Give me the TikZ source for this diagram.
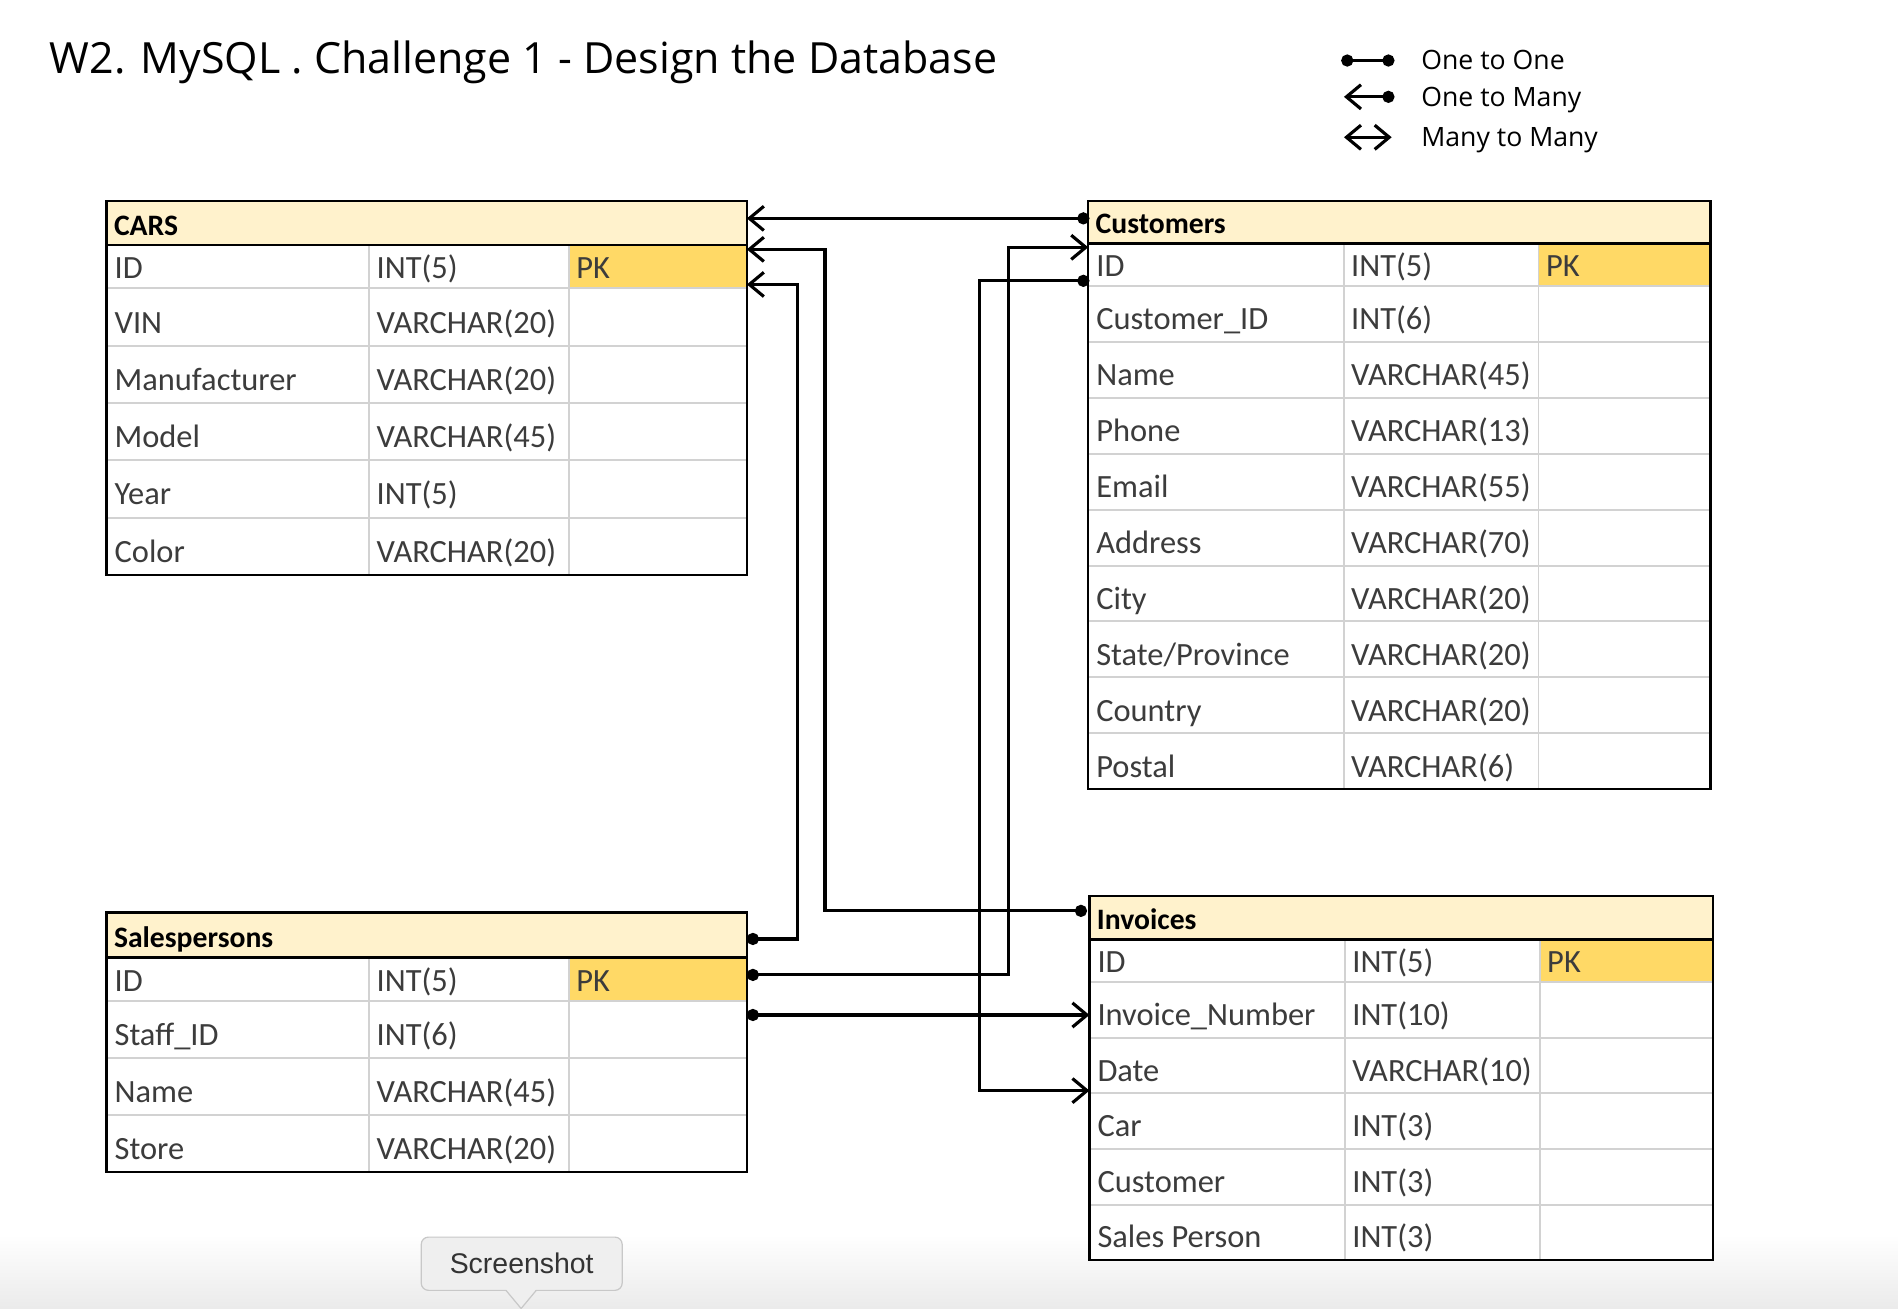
\documentclass[tikz,border=0pt]{standalone}
\usepackage{fontspec}
\setmainfont{Carlito}
\newfontfamily\titlefont{Open Sans}
\newfontfamily\tipfont{Liberation Sans}
\usetikzlibrary{arrows.meta}
\definecolor{hdrfill}{HTML}{FFF2CC}
\definecolor{pkfill}{HTML}{FFD966}
\definecolor{gridgray}{HTML}{D2D2D2}
\definecolor{celltext}{HTML}{3C3C3C}
\definecolor{tipfill}{HTML}{EFEFEF}
\definecolor{tipborder}{HTML}{C8C8C8}
\tikzset{
  gridline/.style={draw=gridgray, line width=1.6pt},
  tblborder/.style={draw=black, line width=2pt},
  celltxt/.style={anchor=base west, inner sep=0pt, text=celltext, font=\fontsize{26.8}{30}\selectfont},
  hdrtxt/.style={anchor=base west, inner sep=0pt, text=black, font=\bfseries\fontsize{24.5}{28}\selectfont},
  legtxt/.style={anchor=base west, inner sep=0pt, text=black, font=\titlefont\fontsize{22}{26}\selectfont},
  link/.style={line width=2.6pt, line join=miter},
  onemany/.style={link, {Circle[length=10pt]}-{Straight Barb[length=12pt,width=20pt]}},
  oneone/.style={link, {Circle[length=10pt]}-{Circle[length=10pt]}},
  manymany/.style={link, {Straight Barb[length=12pt,width=20pt]}-{Straight Barb[length=12pt,width=20pt]}}
}
% #1 name, #2 top, #3 bottom, #4 baseline offset, #5 col1, #6 col2
\newcommand\dbrow[6]{%
  \draw[gridline] (\tcA,#3) -- (\tcD,#3);
  \draw[gridline] (\tcB,#2) -- (\tcB,#3) (\tcC,#2) -- (\tcC,#3);
  \node[celltxt] (#1a) at (\tcA+6.5,#3-#4) {#5};
  \node[celltxt] (#1b) at (\tcB+6,#3-#4) {#6};
}
\begin{document}
\begin{tikzpicture}[x=1pt,y=-1pt]
\useasboundingbox (0,0) rectangle (1568,1081);
\fill[white] (0,0) rectangle (1568,1081);
\shade[top color=white, bottom color=black!8] (0,1020) rectangle (1568,1081);

% title
\node[anchor=base west, inner sep=0pt, font=\titlefont\fontsize{35.5}{40}\selectfont] (title) at (41,60.6) {W2. MySQL . Challenge 1 - Design the Database};

% legend
\coordinate (lg1a) at (1108,50);
\coordinate (lg1b) at (1152,50);
\coordinate (lg2a) at (1152,80);
\coordinate (lg2b) at (1110.3,80);
\coordinate (lg3a) at (1110.3,113.4);
\coordinate (lg3b) at (1149.7,113.4);
\draw[oneone] (lg1a) -- (lg1b);
\draw[onemany] (lg2a) -- (lg2b);
\draw[manymany] (lg3a) -- (lg3b);
\node[legtxt] (lgt1) at (1174,57.8) {One to One};
\node[legtxt] (lgt2) at (1174,88) {One to Many};
\node[legtxt] (lgt3) at (1174,121) {Many to Many};

% ---------- CARS ----------
\def\tcA{88}\def\tcB{305}\def\tcC{470}\def\tcD{617}
\fill[white] (\tcA,166) rectangle (\tcD,475);
\fill[hdrfill] (\tcA,166) rectangle (\tcD,202.4);
\fill[pkfill] (\tcC,202.4) rectangle (\tcD,238.2);
\dbrow{carsA}{202.4}{238.2}{8}{ID}{INT(5)}
\node[celltxt] (carsAc) at (\tcC+6,238.2-8) {PK};
\dbrow{carsB}{238.2}{285.6}{10.5}{VIN}{VARCHAR(20)}
\dbrow{carsC}{285.6}{332.9}{10.5}{Manufacturer}{VARCHAR(20)}
\dbrow{carsD}{332.9}{380.3}{10.5}{Model}{VARCHAR(45)}
\dbrow{carsE}{380.3}{427.6}{10.5}{Year}{INT(5)}
\dbrow{carsF}{427.6}{475}{10.5}{Color}{VARCHAR(20)}
\draw[tblborder] (\tcA,166) rectangle (\tcD,475);
\draw[tblborder] (\tcA,202.4) -- (\tcD,202.4);
\node[hdrtxt] (cars) at (\tcA+6,202.4-8) {CARS};

% ---------- Customers ----------
\def\tcA{899}\def\tcB{1110}\def\tcC{1271}\def\tcD{1413}
\fill[white] (\tcA,166) rectangle (\tcD,652);
\fill[hdrfill] (\tcA,166) rectangle (\tcD,201);
\fill[pkfill] (\tcC,201) rectangle (\tcD,236.3);
\dbrow{custA}{201}{236.3}{8}{ID}{INT(5)}
\node[celltxt] (custAc) at (\tcC+6,236.3-8) {PK};
\dbrow{custB}{236.3}{282.5}{10}{Customer\_ID}{INT(6)}
\dbrow{custC}{282.5}{328.7}{10}{Name}{VARCHAR(45)}
\dbrow{custD}{328.7}{374.9}{10}{Phone}{VARCHAR(13)}
\dbrow{custE}{374.9}{421.1}{10}{Email}{VARCHAR(55)}
\dbrow{custF}{421.1}{467.3}{10}{Address}{VARCHAR(70)}
\dbrow{custG}{467.3}{513.4}{10}{City}{VARCHAR(20)}
\dbrow{custH}{513.4}{559.6}{10}{State/Province}{VARCHAR(20)}
\dbrow{custI}{559.6}{605.8}{10}{Country}{VARCHAR(20)}
\dbrow{custJ}{605.8}{652}{10}{Postal}{VARCHAR(6)}
\draw[tblborder] (\tcA,166) rectangle (\tcD,652);
\draw[tblborder] (\tcA,201) -- (\tcD,201);
\node[hdrtxt] (cust) at (\tcA+6,201-8) {Customers};

% ---------- Salespersons ----------
\def\tcA{88}\def\tcB{305}\def\tcC{470}\def\tcD{617}
\fill[white] (\tcA,754) rectangle (\tcD,968);
\fill[hdrfill] (\tcA,754) rectangle (\tcD,791);
\fill[pkfill] (\tcC,791) rectangle (\tcD,827);
\dbrow{salA}{791}{827}{8}{ID}{INT(5)}
\node[celltxt] (salAc) at (\tcC+6,827-8) {PK};
\dbrow{salB}{827}{874}{10.5}{Staff\_ID}{INT(6)}
\dbrow{salC}{874}{921}{10.5}{Name}{VARCHAR(45)}
\dbrow{salD}{921}{968}{10.5}{Store}{VARCHAR(20)}
\draw[tblborder] (\tcA,754) rectangle (\tcD,968);
\draw[tblborder] (\tcA,791) -- (\tcD,791);
\node[hdrtxt] (sal) at (\tcA+6,791-8) {Salespersons};

% ---------- Invoices ----------
\def\tcA{900}\def\tcB{1111}\def\tcC{1272}\def\tcD{1415}
\fill[white] (\tcA,740) rectangle (\tcD,1041);
\fill[hdrfill] (\tcA,740) rectangle (\tcD,776);
\fill[pkfill] (\tcC,776) rectangle (\tcD,811.5);
\dbrow{invA}{776}{811.5}{8}{ID}{INT(5)}
\node[celltxt] (invAc) at (\tcC+6,811.5-8) {PK};
\dbrow{invB}{811.5}{857.4}{10}{Invoice\_Number}{INT(10)}
\dbrow{invC}{857.4}{903.3}{10}{Date}{VARCHAR(10)}
\dbrow{invD}{903.3}{949.2}{10}{Car}{INT(3)}
\dbrow{invE}{949.2}{995.1}{10}{Customer}{INT(3)}
\dbrow{invF}{995.1}{1041}{10}{Sales Person}{INT(3)}
\draw[tblborder] (\tcA,740) rectangle (\tcD,1041);
\draw[tblborder] (\tcA,776) -- (\tcD,776);
\node[hdrtxt] (inv) at (\tcA+6,776-8) {Invoices};

% ---------- connector ends ----------
\coordinate (carsE1) at (617,180.4);
\coordinate (carsE2) at (617,206);
\coordinate (carsE3) at (617,235);
\coordinate (custW1) at (900,180.4);
\coordinate (custW2) at (899,204.3);
\coordinate (custW3) at (900,232);
\coordinate (invW0) at (898,752.5);
\coordinate (invW1) at (900,838.5);
\coordinate (invW2) at (900,901);
\coordinate (salE0) at (617,775.7);
\coordinate (salE1) at (617,805.4);
\coordinate (salE2) at (617,838.5);

\draw[onemany] (custW1) -- (carsE1);
\draw[onemany] (invW0) -- (681.5,752.5) |- (carsE2);
\draw[onemany] (salE0) -- (658.5,775.7) |- (carsE3);
\draw[onemany] (salE1) -- (833.3,805.4) |- (custW2);
\draw[onemany] (custW3) -- (809,232) |- (invW2);
\draw[onemany] (salE2) -- (invW1);

% ---------- tooltip ----------
\node[draw=tipborder, fill=tipfill, line width=1pt, rounded corners=6pt, minimum width=166pt, minimum height=44pt, inner sep=0pt, text=black!80, font=\tipfont\fontsize{23.5}{26}\selectfont] (shot) at (431,1044) {Screenshot};
\fill[tipfill] (418,1065) -- (430.5,1081) -- (443,1065) -- cycle;
\draw[tipborder, line width=1pt] (418,1066) -- (430.5,1081) -- (443,1066);
\end{tikzpicture}
\end{document}
